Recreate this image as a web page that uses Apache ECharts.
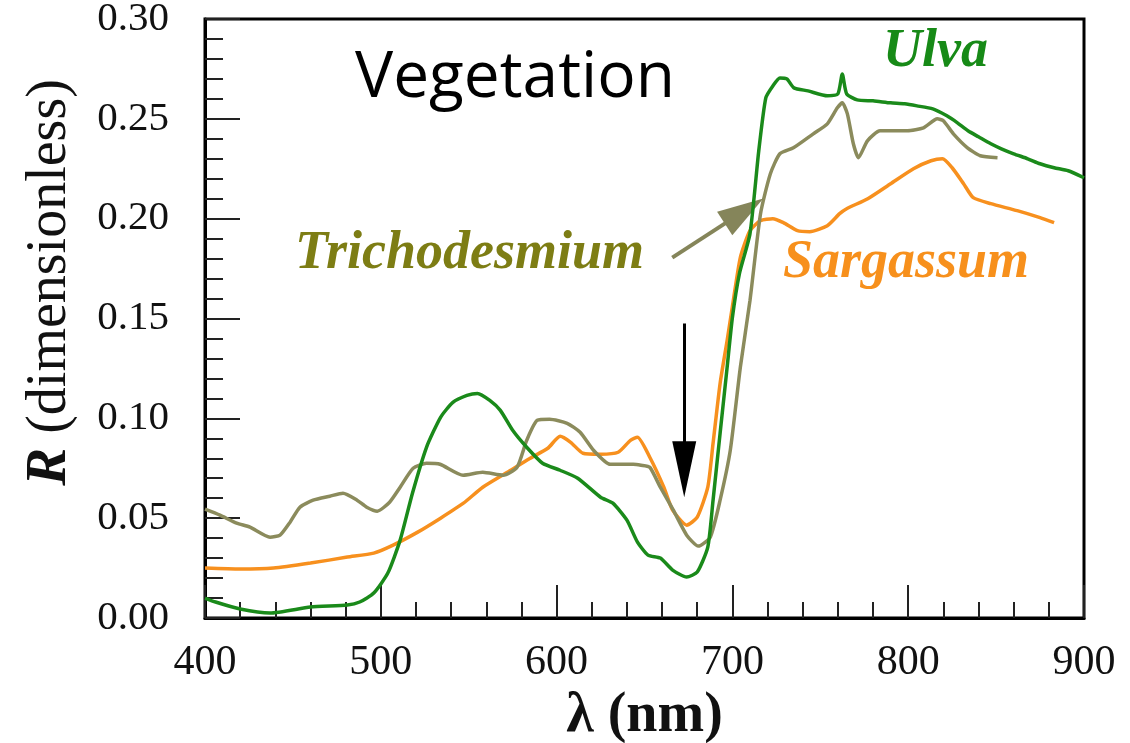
<!DOCTYPE html>
<html>
<head>
<meta charset="utf-8">
<script src="https://cdn.jsdelivr.net/npm/echarts@6/dist/echarts.min.js"></script>
<style>html,body{margin:0;padding:0;background:#fff}#c{width:1130px;height:743px}</style>
</head>
<body>
<div id="c"></div>
<script>
// ---- data ----
const xTicks = [400, 500, 600, 700, 800, 900];
const yTicks = [0.00, 0.05, 0.10, 0.15, 0.20, 0.25, 0.30];

const ulvaNm = [400,406,420,437,460,481,488,496,504,511,518,526,534,541,549,555,562,568,575,583,592,602,612,625,632,640,646,652,659,666,674,680,686,689,693,697,700,704,710,715,719,723,727,731,735,743,754,760,762.5,765,771,780,790,798,805,814,822,828,834,840,847,853,860,868,875,883,891,900];
const ulvaR  = [0.010,0.008,0.0045,0.0025,0.0055,0.0065,0.008,0.0125,0.0225,0.039,0.0625,0.0855,0.1005,0.108,0.1115,0.1125,0.109,0.104,0.094,0.0855,0.0775,0.074,0.070,0.0605,0.0575,0.049,0.038,0.0315,0.030,0.024,0.0205,0.023,0.0355,0.059,0.0925,0.1255,0.1505,0.1725,0.1925,0.234,0.2605,0.2665,0.2705,0.270,0.2655,0.264,0.2615,0.2625,0.2725,0.2625,0.2595,0.259,0.258,0.2575,0.2565,0.255,0.2515,0.248,0.244,0.241,0.2375,0.235,0.2325,0.230,0.2275,0.2255,0.224,0.2205];

const sargNm = [400,420,439,460,481,496,507,521,534,547,558,572,585,595,602,608,615,625,635,642,646,653,661,666,674,680,686,689,693,697,700,704.5,710,716,723,729,737,744,754,761,765,777,790,803,813,819.5,825,831.5,837,847,862,875,883];
const sargR  = [0.025,0.0245,0.025,0.0275,0.0305,0.0325,0.0365,0.043,0.050,0.0575,0.0655,0.073,0.080,0.085,0.091,0.088,0.0825,0.082,0.083,0.089,0.0905,0.0805,0.0655,0.054,0.0465,0.0505,0.0655,0.0875,0.1175,0.139,0.156,0.1805,0.194,0.199,0.200,0.198,0.194,0.1935,0.1965,0.2025,0.205,0.210,0.2175,0.225,0.229,0.230,0.2255,0.2175,0.2105,0.2075,0.204,0.2005,0.198];

const trichNm = [400,408.5,418,425.6,437,442.7,448.4,454,461.5,471,478.5,486.5,492,498,505,511,518.4,526,533.7,546.8,558,569.6,577.5,583,589,596,606,613.4,621,630.5,643.6,648,653,659,666.4,674,680.6,687.4,693,698.8,704.5,710,716,721.6,727,734.7,746,754,759.7,762.5,765.4,768.8,771.7,776.8,784,799.5,808.7,816.6,820,825.7,833.7,841,850.8];
const trichR  = [0.0545,0.0515,0.0475,0.0455,0.0405,0.0415,0.048,0.0555,0.059,0.061,0.0625,0.059,0.0555,0.0535,0.058,0.0655,0.075,0.0775,0.077,0.0715,0.073,0.0715,0.0755,0.089,0.099,0.0995,0.0975,0.093,0.084,0.077,0.077,0.0765,0.0755,0.0655,0.054,0.0415,0.036,0.0405,0.059,0.084,0.1255,0.159,0.2025,0.2225,0.2325,0.2355,0.2425,0.2475,0.2555,0.258,0.2525,0.2375,0.2305,0.239,0.244,0.244,0.2455,0.250,0.249,0.2425,0.2355,0.2315,0.2305];

const labels = {ulva: 'Ulva', trich: 'Trichodesmium', sarg: 'Sargassum', title: 'Vegetation'};
const arrowBlack = [[672.6, 0.1475], [672.6, 0.0745]];
const arrowOlive = [[665.8, 0.1805], [706.6, 0.2038]];

// ---- build ----
const zip = (a, b) => a.map((v, i) => [v, b[i]]);
const C_ULVA = '#1a8a1a', C_SARG = '#f7901e', C_TRICH = '#8b8b5c';
const serif = '"Liberation Serif", "Times New Roman", serif';

const chart = echarts.init(document.getElementById('c'), null, {renderer: 'canvas'});
chart.setOption({
  animation: false,
  backgroundColor: '#fff',
  grid: {left: 205, top: 19, right: 46, bottom: 125, containLabel: false, outerBoundsMode: 'none',
         show: true, borderColor: '#000', borderWidth: 3, backgroundColor: 'transparent'},
  xAxis: {
    type: 'value', min: xTicks[0], max: xTicks[xTicks.length - 1], interval: 100,
    axisLine: {show: true, lineStyle: {color: '#000', width: 3}},
    axisTick: {show: true, inside: true, length: 33, lineStyle: {color: '#222', width: 2}},
    minorTick: {show: true, splitNumber: 5, length: 16, lineStyle: {color: '#222', width: 2}},
    splitLine: {show: false},
    axisLabel: {fontFamily: serif, fontSize: 42, color: '#111', margin: 24},
    name: 'λ (nm)', nameLocation: 'middle', nameGap: 62,
    nameTextStyle: {fontFamily: serif, fontWeight: 'bold', fontSize: 56, color: '#111'}
  },
  yAxis: {
    type: 'value', min: yTicks[0], max: yTicks[yTicks.length - 1], interval: 0.05,
    axisLine: {show: true, lineStyle: {color: '#000', width: 3}},
    axisTick: {show: true, inside: true, length: 35, lineStyle: {color: '#222', width: 2}},
    minorTick: {show: true, splitNumber: 5, length: 18, lineStyle: {color: '#222', width: 2}},
    splitLine: {show: false},
    axisLabel: {fontFamily: serif, fontSize: 41, color: '#111', margin: 36, formatter: v => v.toFixed(2)},
    name: '{b|R} {r|(dimensionless)}', nameLocation: 'middle', nameGap: 126,
    nameTextStyle: {
      fontFamily: serif, fontSize: 56, color: '#111', padding: [0, 0, 0, 72],
      rich: {
        b: {fontFamily: serif, fontSize: 57, fontWeight: 'bold', fontStyle: 'italic', color: '#111'},
        r: {fontFamily: serif, fontSize: 56, color: '#111'}
      }
    }
  },
  series: [
    {name: 'Sargassum', type: 'line', data: zip(sargNm, sargR), showSymbol: false, smooth: 0.2,
     lineStyle: {color: C_SARG, width: 3.5}, z: 3},
    {name: 'Trichodesmium', type: 'line', data: zip(trichNm, trichR), showSymbol: false, smooth: 0.2,
     lineStyle: {color: C_TRICH, width: 3.5}, z: 4,
     markLine: {silent: true, symbol: ['none', 'triangle'], symbolSize: [28, 46], label: {show: false},
       lineStyle: {color: '#85855a', width: 4, type: 'solid'},
       data: [[{coord: arrowOlive[0]}, {coord: arrowOlive[1]}]]}},
    {name: 'Ulva', type: 'line', data: zip(ulvaNm, ulvaR), showSymbol: false, smooth: 0.2,
     lineStyle: {color: C_ULVA, width: 3.5}, z: 5,
     markLine: {silent: true, symbol: ['none', 'triangle'], symbolSize: [24, 56], label: {show: false},
       lineStyle: {color: '#000', width: 3, type: 'solid'},
       data: [[{coord: arrowBlack[0]}, {coord: arrowBlack[1]}]]}}
  ],
  graphic: [
    {type: 'text', left: 355, top: 47, style: {text: labels.title, fontFamily: '"Open Sans", sans-serif', fontSize: 64, fill: '#000'}},
    {type: 'text', x: 883, y: 52, style: {text: labels.ulva, fontFamily: serif, fontSize: 54, fontWeight: 'bold', fontStyle: 'italic', fill: '#178a17', verticalAlign: 'middle'}},
    {type: 'text', x: 295, y: 254, style: {text: labels.trich, fontFamily: serif, fontSize: 54, fontWeight: 'bold', fontStyle: 'italic', fill: '#7d7d14', verticalAlign: 'middle'}},
    {type: 'text', x: 783, y: 263, style: {text: labels.sarg, fontFamily: serif, fontSize: 54, fontWeight: 'bold', fontStyle: 'italic', fill: '#f7901c', verticalAlign: 'middle'}}
  ]
});
</script>
</body>
</html>
